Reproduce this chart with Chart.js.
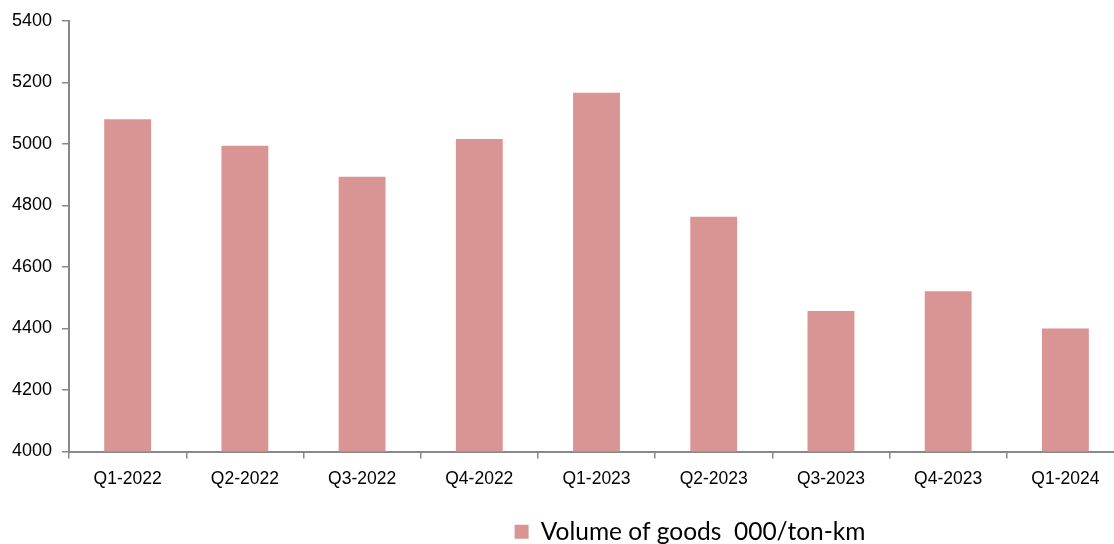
<!DOCTYPE html>
<html>
<head>
<meta charset="utf-8">
<script src="https://cdn.jsdelivr.net/npm/chart.js@4.4.0/dist/chart.umd.min.js"></script>
<style>
  html, body { margin: 0; padding: 0; background: #fff; overflow: hidden; }
  #wrap { width: 1114px; height: 544px; overflow: hidden; }
</style>
</head>
<body>
<div id="wrap"><canvas id="volumeChart"></canvas></div>
<script>
const quarters = ['Q1-2022', 'Q2-2022', 'Q3-2022', 'Q4-2022', 'Q1-2023', 'Q2-2023', 'Q3-2023', 'Q4-2023', 'Q1-2024'];
const volumes = [5080, 4994, 4893, 5016, 5166, 4763, 4457, 4521, 4400];
const seriesLabel = 'Volume of goods  000/ton-km';
const yMin = 4000;
const yMax = 5400;
const yStep = 200;

// legend sits right of centre and lower in the original, nudge it over
const shiftLegend = {
  id: 'shiftLegend',
  afterLayout(chart) {
    const lg = chart.legend;
    lg.left += 127;
    lg.right += 127;
    lg.top += 10;
    lg.bottom += 10;
  }
};

const canvas = document.getElementById('volumeChart');
canvas.width = 1124;
canvas.height = 544;
canvas.style.width = '1124px';
canvas.style.height = '544px';

new Chart(canvas.getContext('2d'), {
  type: 'bar',
  data: {
    labels: quarters,
    datasets: [{
      label: seriesLabel,
      data: volumes,
      backgroundColor: '#d99594',
      borderWidth: 0,
      barPercentage: 0.4,
      categoryPercentage: 1
    }]
  },
  options: {
    responsive: false,
    animation: false,
    layout: { padding: { top: 9, left: 2, right: 0, bottom: 0 } },
    plugins: {
      tooltip: { enabled: false },
      legend: {
        display: true,
        position: 'bottom',
        labels: {
          boxWidth: 14,
          boxHeight: 14,
          color: '#000',
          padding: 10,
          font: { family: 'Lato', size: 24.5 }
        }
      }
    },
    scales: {
      x: {
        grid: { display: true, drawOnChartArea: false, offset: true, tickLength: 7, color: '#888', lineWidth: 1.5 },
        border: { color: '#888', width: 2 },
        ticks: { color: '#000', padding: 10, font: { family: 'Liberation Sans', size: 17.5 } }
      },
      y: {
        min: yMin,
        max: yMax,
        grid: { display: true, drawOnChartArea: false, tickLength: 7, color: '#888', lineWidth: 1.5 },
        border: { color: '#888', width: 2 },
        ticks: {
          stepSize: yStep,
          color: '#000',
          padding: 10,
          font: { family: 'Liberation Sans', size: 18 },
          callback: v => String(v)
        }
      }
    }
  },
  plugins: [shiftLegend]
});
</script>
</body>
</html>
